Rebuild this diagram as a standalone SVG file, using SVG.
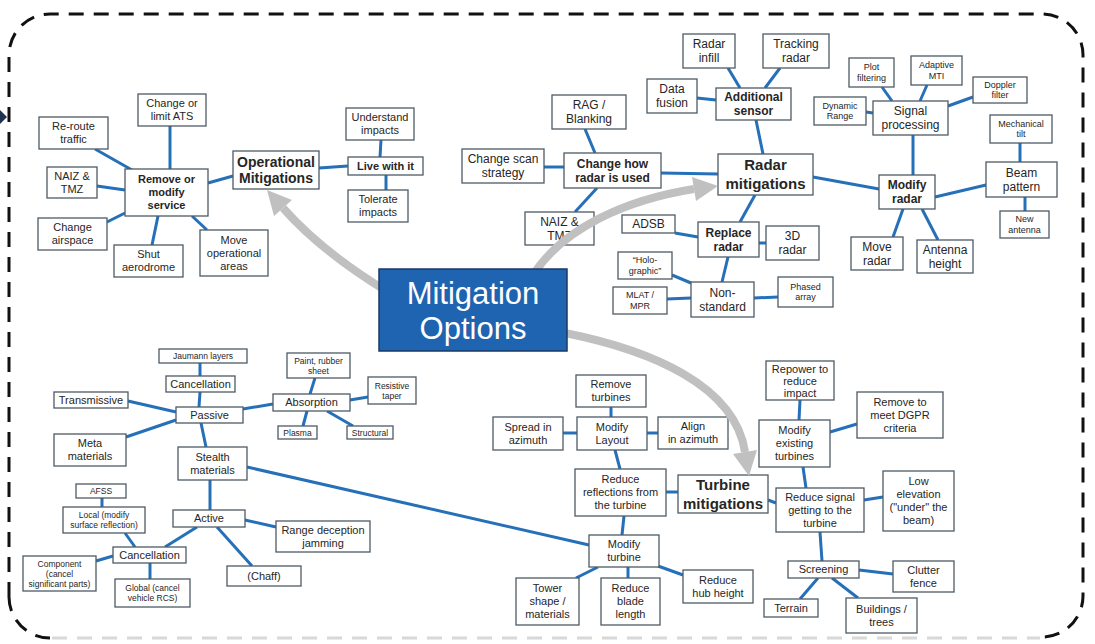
<svg xmlns="http://www.w3.org/2000/svg" width="1095" height="644" viewBox="0 0 1095 644">
<style>
.node rect{fill:#fff;stroke:#4e5a66;stroke-width:1.3}
text{font-family:"Liberation Sans",Arial,sans-serif;fill:#262626;text-anchor:middle}
.f11{font-size:11px}.f12{font-size:12px}.f9{font-size:9px}.f85{font-size:8.5px}
.f14{font-size:14px}.f15{font-size:15px}.b{font-weight:bold}
#connectors line{stroke:#2570b8;stroke-width:3;stroke-linecap:butt}
.gray{stroke:#c0c0c0;stroke-width:8;fill:none}
.ghead{fill:#c0c0c0}
.border{fill:none;stroke:#111;stroke-width:3;stroke-dasharray:15 10}
</style>
<rect width="1095" height="644" fill="#fff"/>
<g id="frame">
<path class="border" d="M9 597 V55 A41 41 0 0 1 50 14 H1042 A41 41 0 0 1 1083 55 V596 A41 41 0 0 1 1042 637"/>
<path class="border" d="M50 638 A41 41 0 0 1 9 597"/>
<path d="M52 638 H1040" fill="none" stroke="#d8d8d8" stroke-width="3" stroke-dasharray="15 10"/>
<polygon points="0,110 7,117 0,124" fill="#1f3250"/>
</g>
<g id="connectors">
<line x1="95" y1="149" x2="132" y2="170"/>
<line x1="170" y1="126" x2="170" y2="169"/>
<line x1="97" y1="186" x2="125" y2="190"/>
<line x1="107" y1="222" x2="125" y2="213"/>
<line x1="158" y1="216" x2="152" y2="245"/>
<line x1="192" y1="216" x2="207" y2="230"/>
<line x1="208" y1="183" x2="233" y2="176"/>
<line x1="319" y1="168" x2="348" y2="166"/>
<line x1="381" y1="140" x2="380" y2="157"/>
<line x1="386" y1="175" x2="386" y2="190"/>
<line x1="728" y1="68" x2="740" y2="88"/>
<line x1="780" y1="68" x2="765" y2="88"/>
<line x1="697" y1="98" x2="716" y2="100"/>
<line x1="756" y1="120" x2="763" y2="154"/>
<line x1="661" y1="173" x2="718" y2="174"/>
<line x1="585" y1="129" x2="595" y2="153"/>
<line x1="544" y1="167" x2="564" y2="167"/>
<line x1="575" y1="212" x2="597" y2="188"/>
<line x1="755" y1="195" x2="740" y2="222"/>
<line x1="675" y1="233" x2="698" y2="237"/>
<line x1="759" y1="243" x2="766" y2="243"/>
<line x1="728" y1="257" x2="722" y2="282"/>
<line x1="672" y1="275" x2="691" y2="283"/>
<line x1="667" y1="299" x2="691" y2="298"/>
<line x1="754" y1="298" x2="778" y2="297"/>
<line x1="813" y1="177" x2="879" y2="189"/>
<line x1="913" y1="135" x2="913" y2="175"/>
<line x1="935" y1="197" x2="986" y2="185"/>
<line x1="1020" y1="143" x2="1020" y2="162"/>
<line x1="1025" y1="197" x2="1025" y2="211"/>
<line x1="893" y1="237" x2="903" y2="209"/>
<line x1="938" y1="240" x2="922" y2="209"/>
<line x1="882" y1="87" x2="892" y2="101"/>
<line x1="927" y1="85" x2="920" y2="101"/>
<line x1="973" y1="97" x2="948" y2="106"/>
<line x1="866" y1="112" x2="873" y2="113"/>
<line x1="200" y1="363" x2="200" y2="376"/>
<line x1="200" y1="392" x2="199" y2="407"/>
<line x1="128" y1="401" x2="176" y2="412"/>
<line x1="126" y1="437" x2="176" y2="420"/>
<line x1="243" y1="409" x2="273" y2="404"/>
<line x1="201" y1="423" x2="206" y2="447"/>
<line x1="315" y1="378" x2="310" y2="394"/>
<line x1="350" y1="400" x2="368" y2="397"/>
<line x1="307" y1="411" x2="303" y2="426"/>
<line x1="327" y1="411" x2="353" y2="426"/>
<line x1="210" y1="480" x2="210" y2="510"/>
<line x1="247" y1="467" x2="589" y2="545"/>
<line x1="245" y1="520" x2="276" y2="527"/>
<line x1="217" y1="527" x2="252" y2="566"/>
<line x1="197" y1="527" x2="165" y2="547"/>
<line x1="102" y1="498" x2="102" y2="507"/>
<line x1="125" y1="533" x2="135" y2="547"/>
<line x1="113" y1="556" x2="96" y2="561"/>
<line x1="150" y1="563" x2="150" y2="579"/>
<line x1="611" y1="407" x2="611" y2="417"/>
<line x1="563" y1="433" x2="577" y2="433"/>
<line x1="647" y1="433" x2="658" y2="433"/>
<line x1="615" y1="450" x2="620" y2="469"/>
<line x1="666" y1="492" x2="678" y2="492"/>
<line x1="624" y1="516" x2="622" y2="535"/>
<line x1="598" y1="567" x2="576" y2="578"/>
<line x1="628" y1="567" x2="628" y2="578"/>
<line x1="658" y1="566" x2="683" y2="575"/>
<line x1="800" y1="400" x2="799" y2="420"/>
<line x1="830" y1="432" x2="857" y2="424"/>
<line x1="803" y1="467" x2="806" y2="488"/>
<line x1="768" y1="500" x2="776" y2="503"/>
<line x1="864" y1="500" x2="883" y2="497"/>
<line x1="820" y1="532" x2="822" y2="561"/>
<line x1="859" y1="570" x2="893" y2="574"/>
<line x1="818" y1="578" x2="800" y2="599"/>
<line x1="832" y1="578" x2="858" y2="598"/>
</g>
<g id="n-chg-ats" class="node"><rect x="138" y="94" width="68" height="32"/><text class="f11"><tspan x="172" y="107.4">Change or</tspan><tspan x="172" y="120.4">limit ATS</tspan></text></g>
<g id="n-reroute" class="node"><rect x="39" y="117" width="69" height="32"/><text class="f11"><tspan x="73.5" y="130.4">Re-route</tspan><tspan x="73.5" y="143.4">traffic</tspan></text></g>
<g id="n-naiz1" class="node"><rect x="47" y="167" width="50" height="31"/><text class="f11"><tspan x="72" y="179.9">NAIZ &amp;</tspan><tspan x="72" y="192.9">TMZ</tspan></text></g>
<g id="n-remove-svc" class="node"><rect x="125" y="169" width="83" height="47"/><text class="f11 b"><tspan x="166.5" y="183.4">Remove or</tspan><tspan x="166.5" y="196.4">modify</tspan><tspan x="166.5" y="209.4">service</tspan></text></g>
<g id="n-chg-airspace" class="node"><rect x="38" y="218" width="69" height="32"/><text class="f11"><tspan x="72.5" y="231.4">Change</tspan><tspan x="72.5" y="244.4">airspace</tspan></text></g>
<g id="n-shut" class="node"><rect x="114" y="245" width="69" height="32"/><text class="f11"><tspan x="148.5" y="258.4">Shut</tspan><tspan x="148.5" y="271.4">aerodrome</tspan></text></g>
<g id="n-move-op" class="node"><rect x="200" y="230" width="68" height="46"/><text class="f11"><tspan x="234" y="243.9">Move</tspan><tspan x="234" y="256.9">operational</tspan><tspan x="234" y="269.9">areas</tspan></text></g>
<g id="n-op-mit" class="node"><rect x="233" y="151" width="86" height="38"/><text class="f14 b"><tspan x="276" y="166.9">Operational</tspan><tspan x="276" y="182.9">Mitigations</tspan></text></g>
<g id="n-live" class="node"><rect x="348" y="157" width="75" height="18"/><text class="f11 b"><tspan x="385.5" y="169.9">Live with it</tspan></text></g>
<g id="n-understand" class="node"><rect x="346" y="108" width="68" height="32"/><text class="f11"><tspan x="380" y="121.4">Understand</tspan><tspan x="380" y="134.4">impacts</tspan></text></g>
<g id="n-tolerate" class="node"><rect x="348" y="190" width="60" height="32"/><text class="f11"><tspan x="378" y="203.4">Tolerate</tspan><tspan x="378" y="216.4">impacts</tspan></text></g>
<g id="n-radar-infill" class="node"><rect x="683" y="34" width="52" height="34"/><text class="f12"><tspan x="709" y="48.2">Radar</tspan><tspan x="709" y="62.2">infill</tspan></text></g>
<g id="n-tracking" class="node"><rect x="763" y="34" width="66" height="34"/><text class="f12"><tspan x="796" y="48.2">Tracking</tspan><tspan x="796" y="62.2">radar</tspan></text></g>
<g id="n-data-fusion" class="node"><rect x="647" y="79" width="50" height="34"/><text class="f12"><tspan x="672" y="93.2">Data</tspan><tspan x="672" y="107.2">fusion</tspan></text></g>
<g id="n-add-sensor" class="node"><rect x="716" y="88" width="75" height="32"/><text class="f12 b"><tspan x="753.5" y="101.2">Additional</tspan><tspan x="753.5" y="115.2">sensor</tspan></text></g>
<g id="n-rag" class="node"><rect x="552" y="95" width="74" height="34"/><text class="f12"><tspan x="589" y="109.2">RAG /</tspan><tspan x="589" y="123.2">Blanking</tspan></text></g>
<g id="n-chg-scan" class="node"><rect x="462" y="149" width="82" height="34"/><text class="f12"><tspan x="503" y="163.2">Change scan</tspan><tspan x="503" y="177.2">strategy</tspan></text></g>
<g id="n-chg-how" class="node"><rect x="564" y="153" width="97" height="35"/><text class="f12 b"><tspan x="612.5" y="167.7">Change how</tspan><tspan x="612.5" y="181.7">radar is used</tspan></text></g>
<g id="n-radar-mit" class="node"><rect x="718" y="154" width="95" height="41"/><text class="f15 b"><tspan x="765.5" y="170.3">Radar</tspan><tspan x="765.5" y="189.3">mitigations</tspan></text></g>
<g id="n-naiz2" class="node"><rect x="525" y="212" width="69" height="33"/><text class="f12"><tspan x="559.5" y="225.7">NAIZ &amp;</tspan><tspan x="559.5" y="239.7">TMZ</tspan></text></g>
<g id="n-adsb" class="node"><rect x="622" y="215" width="53" height="18"/><text class="f12"><tspan x="648.5" y="228.2">ADSB</tspan></text></g>
<g id="n-replace" class="node"><rect x="698" y="222" width="61" height="35"/><text class="f12 b"><tspan x="728.5" y="236.7">Replace</tspan><tspan x="728.5" y="250.7">radar</tspan></text></g>
<g id="n-3d" class="node"><rect x="766" y="226" width="53" height="34"/><text class="f12"><tspan x="792.5" y="240.2">3D</tspan><tspan x="792.5" y="254.2">radar</tspan></text></g>
<g id="n-holo" class="node"><rect x="618" y="252" width="54" height="27"/><text class="f9"><tspan x="645" y="263.4">“Holo-</tspan><tspan x="645" y="273.9">graphic”</tspan></text></g>
<g id="n-mlat" class="node"><rect x="613" y="287" width="54" height="27"/><text class="f9"><tspan x="640" y="298.4">MLAT /</tspan><tspan x="640" y="308.9">MPR</tspan></text></g>
<g id="n-nonstd" class="node"><rect x="691" y="282" width="63" height="35"/><text class="f12"><tspan x="722.5" y="296.7">Non-</tspan><tspan x="722.5" y="310.7">standard</tspan></text></g>
<g id="n-phased" class="node"><rect x="778" y="277" width="55" height="30"/><text class="f9"><tspan x="805.5" y="289.9">Phased</tspan><tspan x="805.5" y="300.4">array</tspan></text></g>
<g id="n-plot" class="node"><rect x="849" y="58" width="45" height="29"/><text class="f9"><tspan x="871.5" y="70.4">Plot</tspan><tspan x="871.5" y="80.9">filtering</tspan></text></g>
<g id="n-amti" class="node"><rect x="911" y="56" width="51" height="29"/><text class="f9"><tspan x="936.5" y="68.4">Adaptive</tspan><tspan x="936.5" y="78.9">MTI</tspan></text></g>
<g id="n-doppler" class="node"><rect x="973" y="77" width="54" height="26"/><text class="f9"><tspan x="1000" y="87.9">Doppler</tspan><tspan x="1000" y="98.4">filter</tspan></text></g>
<g id="n-dynrange" class="node"><rect x="814" y="97" width="52" height="28"/><text class="f9"><tspan x="840" y="108.9">Dynamic</tspan><tspan x="840" y="119.4">Range</tspan></text></g>
<g id="n-sigproc" class="node"><rect x="873" y="101" width="75" height="34"/><text class="f12"><tspan x="910.5" y="115.2">Signal</tspan><tspan x="910.5" y="129.2">processing</tspan></text></g>
<g id="n-mech" class="node"><rect x="990" y="115" width="62" height="28"/><text class="f9"><tspan x="1021" y="126.9">Mechanical</tspan><tspan x="1021" y="137.4">tilt</tspan></text></g>
<g id="n-beam" class="node"><rect x="986" y="162" width="71" height="35"/><text class="f12"><tspan x="1021.5" y="176.7">Beam</tspan><tspan x="1021.5" y="190.7">pattern</tspan></text></g>
<g id="n-newant" class="node"><rect x="1000" y="211" width="49" height="27"/><text class="f9"><tspan x="1024.5" y="222.4">New</tspan><tspan x="1024.5" y="232.9">antenna</tspan></text></g>
<g id="n-modradar" class="node"><rect x="879" y="175" width="56" height="34"/><text class="f12 b"><tspan x="907" y="189.2">Modify</tspan><tspan x="907" y="203.2">radar</tspan></text></g>
<g id="n-moveradar" class="node"><rect x="851" y="237" width="52" height="33"/><text class="f12"><tspan x="877" y="250.7">Move</tspan><tspan x="877" y="264.7">radar</tspan></text></g>
<g id="n-anth" class="node"><rect x="917" y="240" width="56" height="33"/><text class="f12"><tspan x="945" y="253.7">Antenna</tspan><tspan x="945" y="267.7">height</tspan></text></g>
<g id="n-jaumann" class="node"><rect x="159" y="349" width="88" height="14"/><text class="f85"><tspan x="203" y="359">Jaumann layers</tspan></text></g>
<g id="n-cancel1" class="node"><rect x="166" y="376" width="69" height="16"/><text class="f11"><tspan x="200.5" y="387.9">Cancellation</tspan></text></g>
<g id="n-transm" class="node"><rect x="54" y="392" width="74" height="16"/><text class="f11"><tspan x="91" y="403.9">Transmissive</tspan></text></g>
<g id="n-passive" class="node"><rect x="176" y="407" width="67" height="16"/><text class="f11"><tspan x="209.5" y="418.9">Passive</tspan></text></g>
<g id="n-meta" class="node"><rect x="54" y="434" width="72" height="32"/><text class="f11"><tspan x="90" y="447.4">Meta</tspan><tspan x="90" y="460.4">materials</tspan></text></g>
<g id="n-stealth" class="node"><rect x="178" y="447" width="69" height="33"/><text class="f11"><tspan x="212.5" y="460.9">Stealth</tspan><tspan x="212.5" y="473.9">materials</tspan></text></g>
<g id="n-paint" class="node"><rect x="287" y="353" width="63" height="25"/><text class="f85"><tspan x="318.5" y="363.5">Paint, rubber</tspan><tspan x="318.5" y="373.5">sheet</tspan></text></g>
<g id="n-resistive" class="node"><rect x="368" y="377" width="48" height="27"/><text class="f85"><tspan x="392" y="388.5">Resistive</tspan><tspan x="392" y="398.5">taper</tspan></text></g>
<g id="n-absorption" class="node"><rect x="273" y="394" width="77" height="17"/><text class="f11"><tspan x="311.5" y="406.4">Absorption</tspan></text></g>
<g id="n-plasma" class="node"><rect x="278" y="426" width="39" height="13"/><text class="f85"><tspan x="297.5" y="435.5">Plasma</tspan></text></g>
<g id="n-structural" class="node"><rect x="347" y="426" width="46" height="13"/><text class="f85"><tspan x="370" y="435.5">Structural</tspan></text></g>
<g id="n-afss" class="node"><rect x="76" y="484" width="50" height="14"/><text class="f85"><tspan x="101" y="494">AFSS</tspan></text></g>
<g id="n-local" class="node"><rect x="63" y="507" width="82" height="26"/><text class="f85"><tspan x="104" y="518">Local (modify</tspan><tspan x="104" y="528">surface reflection)</tspan></text></g>
<g id="n-active" class="node"><rect x="173" y="510" width="72" height="17"/><text class="f11"><tspan x="209" y="522.4">Active</tspan></text></g>
<g id="n-range" class="node"><rect x="276" y="521" width="94" height="31"/><text class="f11"><tspan x="323" y="533.9">Range deception</tspan><tspan x="323" y="546.9">jamming</tspan></text></g>
<g id="n-cancel2" class="node"><rect x="113" y="547" width="73" height="16"/><text class="f11"><tspan x="149.5" y="558.9">Cancellation</tspan></text></g>
<g id="n-component" class="node"><rect x="23" y="556" width="73" height="35"/><text class="f85"><tspan x="59.5" y="566.5">Component</tspan><tspan x="59.5" y="576.5">(cancel</tspan><tspan x="59.5" y="586.5">significant parts)</tspan></text></g>
<g id="n-chaff" class="node"><rect x="227" y="566" width="74" height="20"/><text class="f11"><tspan x="264" y="579.9">(Chaff)</tspan></text></g>
<g id="n-global" class="node"><rect x="115" y="579" width="75" height="28"/><text class="f85"><tspan x="152.5" y="591">Global (cancel</tspan><tspan x="152.5" y="601">vehicle RCS)</tspan></text></g>
<g id="n-rem-turb" class="node"><rect x="576" y="375" width="70" height="32"/><text class="f11"><tspan x="611" y="388.4">Remove</tspan><tspan x="611" y="401.4">turbines</tspan></text></g>
<g id="n-spread" class="node"><rect x="493" y="417" width="70" height="33"/><text class="f11"><tspan x="528" y="430.9">Spread in</tspan><tspan x="528" y="443.9">azimuth</tspan></text></g>
<g id="n-modlayout" class="node"><rect x="577" y="417" width="70" height="33"/><text class="f11"><tspan x="612" y="430.9">Modify</tspan><tspan x="612" y="443.9">Layout</tspan></text></g>
<g id="n-align" class="node"><rect x="658" y="417" width="70" height="32"/><text class="f11"><tspan x="693" y="430.4">Align</tspan><tspan x="693" y="443.4">in azimuth</tspan></text></g>
<g id="n-redrefl" class="node"><rect x="575" y="469" width="91" height="47"/><text class="f11"><tspan x="620.5" y="483.4">Reduce</tspan><tspan x="620.5" y="496.4">reflections from</tspan><tspan x="620.5" y="509.4">the turbine</tspan></text></g>
<g id="n-turbmit" class="node"><rect x="678" y="475" width="90" height="38"/><text class="f15 b"><tspan x="723" y="489.8">Turbine</tspan><tspan x="723" y="508.8">mitigations</tspan></text></g>
<g id="n-modturb" class="node"><rect x="589" y="535" width="70" height="32"/><text class="f11"><tspan x="624" y="548.4">Modify</tspan><tspan x="624" y="561.4">turbine</tspan></text></g>
<g id="n-tower" class="node"><rect x="516" y="578" width="63" height="47"/><text class="f11"><tspan x="547.5" y="592.4">Tower</tspan><tspan x="547.5" y="605.4">shape /</tspan><tspan x="547.5" y="618.4">materials</tspan></text></g>
<g id="n-blade" class="node"><rect x="601" y="578" width="59" height="47"/><text class="f11"><tspan x="630.5" y="592.4">Reduce</tspan><tspan x="630.5" y="605.4">blade</tspan><tspan x="630.5" y="618.4">length</tspan></text></g>
<g id="n-hub" class="node"><rect x="683" y="570" width="70" height="33"/><text class="f11"><tspan x="718" y="583.9">Reduce</tspan><tspan x="718" y="596.9">hub height</tspan></text></g>
<g id="n-repower" class="node"><rect x="766" y="361" width="68" height="39"/><text class="f11"><tspan x="800" y="372.6">Repower to</tspan><tspan x="800" y="384.6">reduce</tspan><tspan x="800" y="396.6">impact</tspan></text></g>
<g id="n-dgpr" class="node"><rect x="857" y="392" width="86" height="46"/><text class="f11"><tspan x="900" y="405.9">Remove to</tspan><tspan x="900" y="418.9">meet DGPR</tspan><tspan x="900" y="431.9">criteria</tspan></text></g>
<g id="n-modexist" class="node"><rect x="759" y="420" width="71" height="47"/><text class="f11"><tspan x="794.5" y="434.4">Modify</tspan><tspan x="794.5" y="447.4">existing</tspan><tspan x="794.5" y="460.4">turbines</tspan></text></g>
<g id="n-lowelev" class="node"><rect x="883" y="471" width="71" height="60"/><text class="f11"><tspan x="918.5" y="485.4">Low</tspan><tspan x="918.5" y="498.4">elevation</tspan><tspan x="918.5" y="511.4">("under" the</tspan><tspan x="918.5" y="524.4">beam)</tspan></text></g>
<g id="n-redsig" class="node"><rect x="776" y="488" width="88" height="44"/><text class="f11"><tspan x="820" y="500.9">Reduce signal</tspan><tspan x="820" y="513.9">getting to the</tspan><tspan x="820" y="526.9">turbine</tspan></text></g>
<g id="n-screening" class="node"><rect x="788" y="561" width="71" height="17"/><text class="f11"><tspan x="823.5" y="573.4">Screening</tspan></text></g>
<g id="n-clutter" class="node"><rect x="893" y="561" width="61" height="31"/><text class="f11"><tspan x="923.5" y="573.9">Clutter</tspan><tspan x="923.5" y="586.9">fence</tspan></text></g>
<g id="n-terrain" class="node"><rect x="764" y="599" width="54" height="18"/><text class="f11"><tspan x="791" y="611.9">Terrain</tspan></text></g>
<g id="n-buildings" class="node"><rect x="846" y="598" width="71" height="35"/><text class="f11"><tspan x="881.5" y="612.9">Buildings /</tspan><tspan x="881.5" y="625.9">trees</tspan></text></g>
<g id="arrows">
<path class="gray" d="M388 292 Q322 252 283 208"/>
<polygon class="ghead" points="267,190 292,200 274,216"/>
<path class="gray" d="M535 272 C565 228 625 200 694 189"/>
<polygon class="ghead" points="718,186 696,201 692,177"/>
<path class="gray" d="M565 333 C650 350 735 385 745 452"/>
<polygon class="ghead" points="749,476 757,450 733,454"/>
</g>
<g id="n-mitopt"><rect x="379" y="269" width="188" height="82" fill="#1f64b0" stroke="#1a3a66" stroke-width="1.5"/><text font-size="31" style="fill:#fff"><tspan x="473" y="303.5">Mitigation</tspan><tspan x="473" y="338.5">Options</tspan></text></g>
</svg>
